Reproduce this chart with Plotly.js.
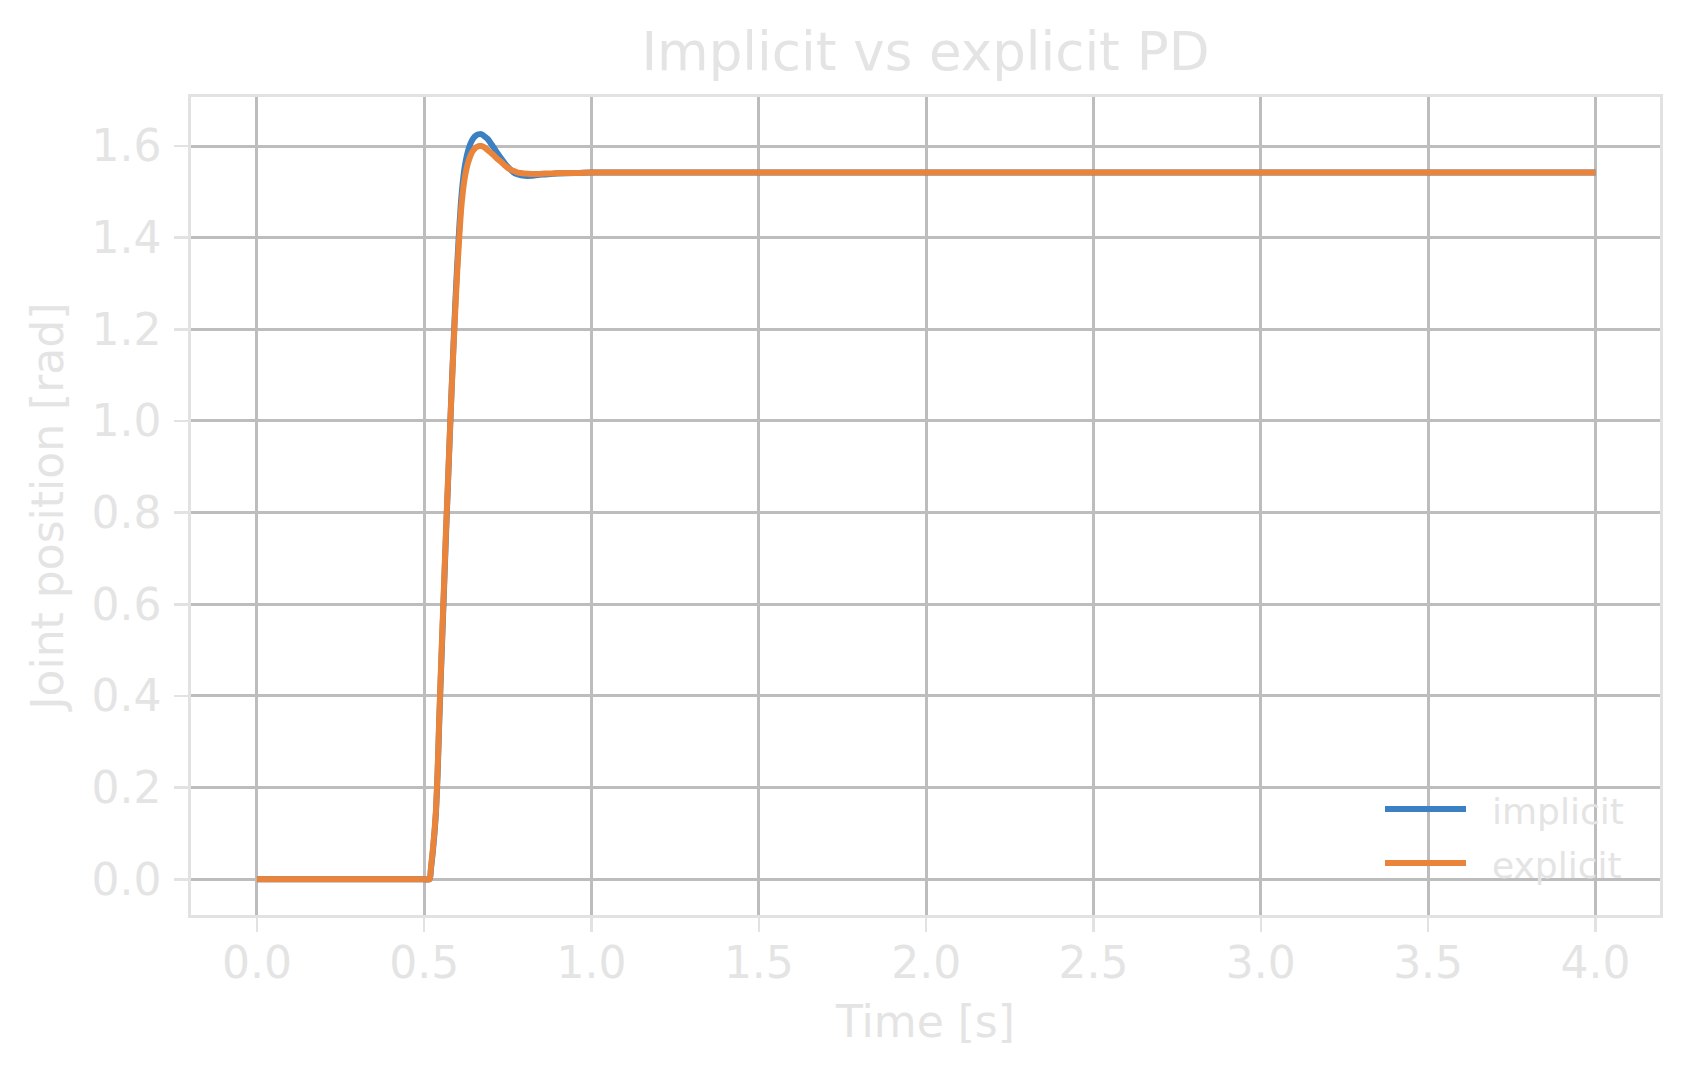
<!DOCTYPE html>
<html>
<head>
<meta charset="utf-8">
<script src="https://cdn.plot.ly/plotly-3.0.1.min.js"></script>
<style>
  html, body { margin: 0; padding: 0; background: #ffffff; }
  #chart { width: 1691px; height: 1080px; }
</style>
</head>
<body>
<div id="chart"></div>
<script>
// values
const time_s = [0, 0.5, 0.516, 0.52, 0.525, 0.53, 0.535, 0.54, 0.545, 0.55, 0.555, 0.56,
    0.565, 0.57, 0.575, 0.58, 0.585, 0.59, 0.595, 0.6, 0.605, 0.61, 0.615, 0.62, 0.625,
    0.63, 0.635, 0.64, 0.645, 0.65, 0.655, 0.66, 0.665, 0.67, 0.675, 0.68, 0.69, 0.70,
    0.71, 0.72, 0.73, 0.74, 0.75, 0.76, 0.77, 0.78, 0.79, 0.80, 0.82, 0.84, 0.86, 0.88,
    0.90, 0.95, 1.0, 1.5, 2.0, 3.0, 4.0];

const implicit_pos = [0, 0, 0, 0.022, 0.055, 0.095, 0.145, 0.23, 0.345, 0.45, 0.55, 0.65,
    0.75, 0.845, 0.94, 1.035, 1.125, 1.21, 1.29, 1.36, 1.425, 1.48, 1.52, 1.55, 1.571,
    1.587, 1.599, 1.608, 1.615, 1.62, 1.623, 1.625, 1.626, 1.626, 1.624, 1.621, 1.615, 1.605,
    1.594, 1.583, 1.573, 1.563, 1.554, 1.547, 1.541, 1.538, 1.536, 1.535, 1.535, 1.537, 1.538, 1.539,
    1.540, 1.541, 1.542, 1.542, 1.542, 1.542, 1.542];

const explicit_pos = [0, 0, 0, 0.025, 0.06, 0.1, 0.15, 0.24, 0.355, 0.46, 0.56, 0.66,
    0.76, 0.85, 0.945, 1.035, 1.12, 1.2, 1.275, 1.345, 1.405, 1.46, 1.497, 1.526, 1.546,
    1.561, 1.573, 1.582, 1.589, 1.5935, 1.597, 1.599, 1.6, 1.6, 1.599, 1.597, 1.591, 1.585,
    1.578, 1.571, 1.565, 1.558, 1.552, 1.548, 1.545, 1.542, 1.541, 1.540, 1.539, 1.539, 1.540, 1.540,
    1.541, 1.541, 1.542, 1.542, 1.542, 1.542, 1.542];

const series_names = ["implicit", "explicit"];
const series_colors = ["#3a80c3", "#e9843a"];

const text_color = "#e4e4e4";
const spine_color = "#e2e2e2";
const grid_color = "#bdbdbd";
const font_family = "DejaVu Sans, sans-serif";

let traces = [implicit_pos, explicit_pos].map((ys, i) => ({
    x: time_s,
    y: ys,
    name: series_names[i],
    mode: 'lines',
    type: 'scatter',
    line: {color: series_colors[i], width: 6, shape: 'spline', smoothing: 0.6},
    hoverinfo: 'skip',
}));

// plot box in pixels, used only to place the hand-made legend
const box = {l: 191, r: 31, t: 97, b: 165};
const plot_w = 1691 - box.l - box.r;
const plot_h = 1080 - box.t - box.b;
const px = (x) => (x - box.l) / plot_w;
const py = (y) => (1080 - box.b - y) / plot_h;

let legend_shapes = [];
let legend_notes = [];
[809, 863].forEach((yy, i) => {
    legend_shapes.push({
        type: 'line', xref: 'paper', yref: 'paper',
        x0: px(1385), x1: px(1466), y0: py(yy), y1: py(yy),
        line: {color: series_colors[i], width: 6},
    });
    legend_notes.push({
        xref: 'paper', yref: 'paper',
        x: px(1490), y: py(yy + 2),
        xanchor: 'left', yanchor: 'middle',
        text: series_names[i], showarrow: false,
        font: {family: font_family, size: 36, color: text_color},
    });
});

function axis_style() {
    return {
        showline: true, linecolor: spine_color, linewidth: 2.7, mirror: true,
        showgrid: true, gridcolor: grid_color, gridwidth: 3,
        zeroline: false,
        ticks: 'outside', ticklen: 14, tickwidth: 2.5, tickcolor: spine_color,
        tickfont: {family: font_family, size: 44, color: text_color},
        tickformat: '.1f',
    };
}

let layout = {
    width: 1691,
    height: 1080,
    paper_bgcolor: '#ffffff',
    plot_bgcolor: '#ffffff',
    margin: {...box, pad: 0},
    showlegend: false,
    font: {family: font_family, color: text_color},
    title: {
        text: 'Implicit vs explicit PD',
        font: {family: font_family, size: 53, color: text_color},
        x: 0.5 + (box.l - box.r) / 2 / 1691, xanchor: 'center',
        y: 1 - 51 / 1080, yanchor: 'middle', yref: 'container',
    },
    xaxis: {
        ...axis_style(),
        range: [-0.197, 4.193],
        tick0: 0, dtick: 0.5,
        ticklabelstandoff: -7,
        title: {text: 'Time [s]', font: {family: font_family, size: 44, color: text_color}, standoff: 20},
    },
    yaxis: {
        ...axis_style(),
        range: [-0.078, 1.707],
        tick0: 0, dtick: 0.2,
        ticklabelstandoff: 4,
        title: {text: 'Joint position [rad]', font: {family: font_family, size: 44, color: text_color}, standoff: 14},
    },
    shapes: legend_shapes,
    annotations: legend_notes,
};

Plotly.newPlot('chart', traces, layout, {staticPlot: true, displayModeBar: false});
</script>
</body>
</html>
